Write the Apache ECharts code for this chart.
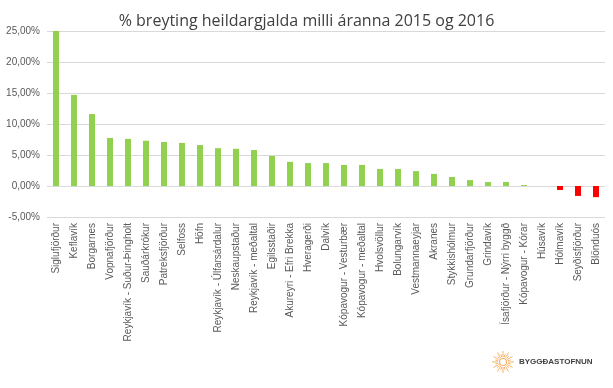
<!DOCTYPE html>
<html>
<head>
<meta charset="utf-8">
<script src="https://cdn.jsdelivr.net/npm/echarts@6/dist/echarts.min.js"></script>
<style>html,body{margin:0;padding:0;background:#fff;}#c{width:613px;height:388px;}</style>
</head>
<body>
<div id="c"></div>
<script>
var categories = ["Siglufjörður","Keflavík","Borgarnes","Vopnafjörður","Reykjavík - Suður-Þingholt","Sauðárkrókur","Patreksfjörður","Selfoss","Höfn","Reykjavík - Úlfarsárdalur","Neskaupstaður","Reykjavík - meðaltal","Egilsstaðir","Akureyri - Efri Brekka","Hveragerði","Dalvík","Kópavogur - Vesturbær","Kópavogur - meðaltal","Hvolsvöllur","Bolungarvík","Vestmannaeyjar","Akranes","Stykkishólmur","Grundarfjörður","Grindavík","Ísafjörður - Nýrri byggð","Kópavogur - Kórar","Húsavík","Hólmavík","Seyðisfjörður","Blönduós"];
var values = [25.0,14.7,11.6,7.75,7.6,7.3,7.1,6.95,6.6,6.1,6.0,5.8,4.85,3.9,3.7,3.7,3.4,3.4,2.75,2.75,2.4,1.95,1.45,0.95,0.65,0.65,0.15,0,-0.65,-1.6,-1.8];
var yTicks = {min:-5, max:25, interval:5};

var chart = echarts.init(document.getElementById('c'));
var rays = [];
var cx = 503, cy = 362;
for (var i = 0; i < 24; i++) {
  var a = i * Math.PI * 2 / 24;
  var r1 = 5, r2 = (i % 2 === 0) ? 11 : 8;
  rays.push({type:'line', shape:{x1:cx+Math.cos(a)*r1, y1:cy+Math.sin(a)*r1, x2:cx+Math.cos(a)*r2, y2:cy+Math.sin(a)*r2}, style:{stroke:'#F7B36B', lineWidth:1}, silent:true});
}
rays.push({type:'circle', shape:{cx:cx, cy:cy, r:3.5}, style:{fill:'#fff', stroke:'#F7B36B', lineWidth:1.2}, silent:true});
rays.push({type:'text', left:519, top:358, style:{text:'BYGGÐASTOFNUN', fill:'#404040', font:'bold 8px "Liberation Sans", Arial, sans-serif'}, silent:true});

chart.setOption({
  backgroundColor:'#fff',
  animation:false,
  title:{text:'% breyting heildargjalda milli áranna 2015 og 2016', left:'center', top:8,
    textStyle:{fontFamily:'"Open Sans", "Liberation Sans", sans-serif', fontSize:16, fontWeight:'normal', color:'#404040'}},
  grid:{left:47, right:8, top:31, bottom:171, containLabel:false},
  xAxis:{type:'category', data:categories, position:'bottom',
    axisLine:{show:false}, axisTick:{show:false},
    axisLabel:{rotate:90, interval:0, fontSize:10, color:'#595959', fontFamily:'"Liberation Sans", Arial, sans-serif', margin:6}},
  yAxis:{type:'value', min:yTicks.min, max:yTicks.max, interval:yTicks.interval,
    axisLine:{show:false}, axisTick:{show:false},
    splitLine:{lineStyle:{color:'#D9D9D9', width:1}},
    axisLabel:{fontSize:10, color:'#595959', fontFamily:'"Liberation Sans", Arial, sans-serif', margin:7,
      formatter:function(v){return v.toFixed(2).replace('.', ',') + '%';}}},
  series:[{type:'bar', data:values, barWidth:6,
    itemStyle:{color:function(p){return p.value < 0 ? '#FF0000' : '#92D050';}}}],
  graphic:rays
});
</script>
</body>
</html>
